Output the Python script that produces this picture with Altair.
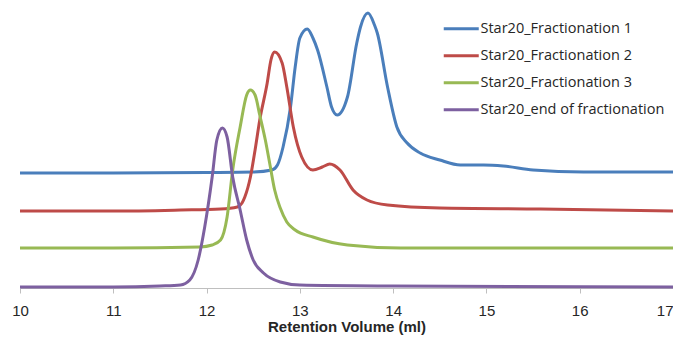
import altair as alt
import pandas as pd

series_names = [
    "Star20_Fractionation 1",
    "Star20_Fractionation 2",
    "Star20_Fractionation 3",
    "Star20_end of fractionation",
]
series_colors = ["#4A7EBB", "#BE4B48", "#98B954", "#7D60A0"]
x_ticks = [10, 11, 12, 13, 14, 15, 16, 17]

# Retention volume (ml) and detector signal (offset traces, arbitrary units)
vol_1 = [10.00, 11.00, 12.00, 12.50, 12.70, 12.76, 12.82, 12.90, 12.95, 13.00, 13.08,
         13.14, 13.19, 13.29, 13.34, 13.40, 13.51, 13.61, 13.65, 13.73, 13.80, 13.83,
         13.94, 14.04, 14.15, 14.29, 14.50, 14.72, 14.97, 15.18, 15.50, 16.04, 17.00]
sig_1 = [115, 115, 115.5, 116, 118, 123, 141, 181, 221, 250, 259,
         250, 238, 201, 181, 173, 191, 245, 261, 275, 263, 255,
         201, 161, 145, 135, 128, 123, 123, 122, 118, 116, 116]

vol_2 = [10.00, 11.00, 11.72, 12.15, 12.33, 12.38, 12.41, 12.47, 12.52, 12.57, 12.65,
         12.69, 12.73, 12.81, 12.86, 12.93, 13.02, 13.14, 13.24, 13.32, 13.43, 13.57,
         13.72, 13.94, 14.50, 15.58, 17.00]
sig_2 = [77, 77, 78, 79, 81, 85, 91, 111, 138, 168, 205,
         228, 236, 225, 201, 161, 131, 118, 121, 124, 118, 98,
         88, 83, 80, 79, 77]

vol_3 = [10.00, 11.00, 11.93, 12.06, 12.15, 12.22, 12.28, 12.36, 12.43, 12.47, 12.52,
         12.57, 12.63, 12.68, 12.73, 12.79, 12.86, 12.95, 13.14, 13.51, 14.08, 17.00]
sig_3 = [40, 40, 41, 43, 48, 71, 118, 161, 193, 198, 193,
         173, 148, 123, 98, 80, 66, 58, 51, 43, 40, 40]

vol_4 = [10.00, 11.00, 11.50, 11.72, 11.82, 11.91, 11.98, 12.06, 12.11, 12.17, 12.22,
         12.28, 12.36, 12.43, 12.50, 12.61, 12.79, 13.00, 14.00, 17.00]
sig_4 = [1, 1, 2, 3, 8, 28, 61, 111, 148, 160, 151,
         111, 78, 48, 28, 15, 6, 3, 2, 1]

rows = []
for name, vols, sigs in zip(series_names, [vol_1, vol_2, vol_3, vol_4],
                            [sig_1, sig_2, sig_3, sig_4]):
    for v, s in zip(vols, sigs):
        rows.append({"series": name, "volume": v, "signal": s})
df = pd.DataFrame(rows)

axis_font = "Liberation Sans"
legend_font = "Open Sans"
text_color = "#262626"

chart = (
    alt.Chart(df)
    .mark_line(strokeWidth=3, interpolate="monotone")
    .encode(
        x=alt.X(
            "volume:Q",
            scale=alt.Scale(domain=[10, 17], nice=False, zero=False),
            axis=alt.Axis(
                values=x_ticks,
                format="d",
                title="Retention Volume (ml)",
                grid=False,
                labelFlush=False,
                labelAlign=alt.expr("datum.value == 17 ? 'right' : 'center'"),
                domainColor="#BFBFBF",
                domainWidth=1,
                tickColor="#BFBFBF",
                tickSize=5,
                labelFont=axis_font,
                labelFontSize=15,
                labelColor=text_color,
                labelPadding=10,
                titleFont=axis_font,
                titleFontSize=15,
                titleFontWeight="bold",
                titleColor=text_color,
                titlePadding=1.5,
            ),
        ),
        y=alt.Y("signal:Q", scale=alt.Scale(domain=[0, 280]), axis=None),
        color=alt.Color(
            "series:N",
            sort=series_names,
            scale=alt.Scale(domain=series_names, range=series_colors),
            legend=alt.Legend(
                title=None,
                orient="none",
                legendX=434,
                legendY=13.5,
                padding=0,
                symbolType="M-3.5,0H3.5",
                symbolSize=100,
                symbolStrokeWidth=3,
                labelFont=legend_font,
                labelFontSize=14.5,
                labelColor=text_color,
                labelOffset=12,
                labelLimit=0,
                rowPadding=12,
            ),
        ),
        detail="series:N",
    )
    .properties(
        width=653,
        height=280,
        autosize=alt.AutoSizeParams(type="none"),
        padding={"left": 12, "top": 0, "right": 0, "bottom": 47},
    )
    .configure_view(stroke=None)
)

chart.save("out.html", embed_options={"renderer": "svg", "actions": False})
